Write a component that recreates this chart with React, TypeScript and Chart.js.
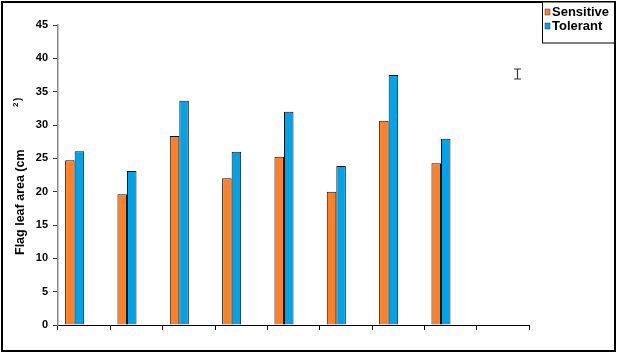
import React, { useEffect, useRef } from "react";
import { Chart, registerables } from "chart.js";

Chart.register(...registerables);

const categories = ["G1", "G2", "G3", "G4", "G5", "G6", "G7", "G8", "LSD"];
const sensitive: (number | null)[] = [24.7, 19.6, 28.35, 22.0, 25.25, 20.0, 30.65, 24.25, null];
const tolerant: (number | null)[] = [26.05, 23.1, 33.65, 26.0, 32.0, 23.85, 37.5, 27.95, null];
const spacer: (number | null)[] = [null, null, null, null, null, null, null, null, null];
const lsdCenter: (number | null)[] = [null, null, null, null, null, null, null, null, 37.65];
const lsdHalfRange = 0.75;
const yMin = 0;
const yMax = 45;
const yStep = 5;
const yTitle = "Flag leaf area (cm";
const yTitleSup = "2";
const yTitleEnd = ")";

const ORANGE = "#FF8027";
const BLUE = "#00A2E8";
const FONT = "'Liberation Sans', Arial, sans-serif";

const decorPlugin = {
  id: "decor",
  afterDraw(chart: any) {
    const ctx = chart.ctx as CanvasRenderingContext2D;
    const yScale = chart.scales.y;
    ctx.save();
    // frame
    ctx.strokeStyle = "#000";
    ctx.lineWidth = 2;
    ctx.strokeRect(2, 2, 613, 349);

    // legend
    ctx.lineWidth = 1;
    ctx.fillStyle = "#fff";
    ctx.fillRect(542.5, 2, 72, 41);
    ctx.strokeRect(542.5, 2, 72, 41);
    const items = [0, 1].map((i) => chart.data.datasets[i]);
    ctx.font = `bold 13px ${FONT}`;
    ctx.textBaseline = "middle";
    ctx.textAlign = "left";
    items.forEach((ds: any, i: number) => {
      const cy = 12 + i * 14;
      ctx.fillStyle = ds.backgroundColor;
      ctx.fillRect(545, cy - 3, 5, 6);
      ctx.strokeStyle = "#333";
      ctx.lineWidth = 0.5;
      ctx.strokeRect(545, cy - 3, 5, 6);
      ctx.fillStyle = "#000";
      ctx.fillText(ds.label, 552, cy + 0.5);
    });

    // y title
    ctx.save();
    ctx.translate(24, 255);
    ctx.rotate(-Math.PI / 2);
    ctx.fillStyle = "#000";
    ctx.textBaseline = "alphabetic";
    ctx.font = `bold 12.5px ${FONT}`;
    ctx.fillText(yTitle, 0, 0);
    ctx.font = `bold 8px ${FONT}`;
    ctx.fillText(yTitleSup, 148, -6);
    ctx.font = `bold 10px ${FONT}`;
    ctx.fillText(yTitleEnd, 154, -3);
    ctx.restore();

    // LSD error bar
    const meta = chart.getDatasetMeta(3);
    lsdCenter.forEach((v, idx) => {
      if (v == null) return;
      const el = meta.data[idx];
      if (!el) return;
      const x = Math.round(el.x) + 0.5;
      const yTop = yScale.getPixelForValue(v + lsdHalfRange);
      const yBot = yScale.getPixelForValue(v - lsdHalfRange);
      ctx.strokeStyle = "#333";
      ctx.lineWidth = 1.2;
      ctx.beginPath();
      ctx.moveTo(x, yTop);
      ctx.lineTo(x, yBot);
      ctx.moveTo(x - 3.5, yTop);
      ctx.lineTo(x + 3.5, yTop);
      ctx.moveTo(x - 3.5, yBot);
      ctx.lineTo(x + 3.5, yBot);
      ctx.stroke();
    });
    ctx.restore();
  },
};

export default function App() {
  const ref = useRef<HTMLCanvasElement | null>(null);
  useEffect(() => {
    document.body.style.margin = "0";
    if (!ref.current) return;
    const chart = new Chart(ref.current, {
      type: "bar",
      data: {
        labels: categories,
        datasets: [
          { label: "Sensitive", data: sensitive, backgroundColor: ORANGE, borderColor: "#111", borderWidth: 1 },
          { label: "Tolerant", data: tolerant, backgroundColor: BLUE, borderColor: "#111", borderWidth: 1 },
          { label: "spacer", data: spacer, backgroundColor: "rgba(0,0,0,0)", borderWidth: 0 },
          { label: "LSD", data: lsdCenter, backgroundColor: "rgba(0,0,0,0)", borderWidth: 0 },
        ],
      },
      options: {
        animation: false,
        responsive: false,
        maintainAspectRatio: false,
        layout: { padding: { top: 25, right: 88, left: 0, bottom: 0 } },
        datasets: { bar: { categoryPercentage: 0.728, barPercentage: 1 } },
        plugins: {
          legend: { display: false },
          tooltip: { enabled: false },
          title: { display: false },
        },
        scales: {
          x: {
            afterFit: (s: any) => {
              s.height = 28;
            },
            grid: {
              offset: true,
              drawOnChartArea: false,
              drawTicks: true,
              tickLength: 5,
              color: "#000",
            },
            border: { display: true, color: "#000", width: 1 },
            ticks: { display: false },
          },
          y: {
            min: yMin,
            max: yMax,
            afterFit: (s: any) => {
              s.width = 58;
            },
            grid: {
              drawOnChartArea: false,
              drawTicks: true,
              tickLength: 5,
              color: "#333",
            },
            border: { display: true, color: "#888", width: 1.5 },
            ticks: {
              stepSize: yStep,
              padding: 5,
              color: "#000",
              font: { family: FONT, size: 11, weight: "bold" },
            },
          },
        },
      },
      plugins: [decorPlugin],
    } as any);
    return () => chart.destroy();
  }, []);
  return (
    <div style={{ width: 617, height: 353, background: "#fff" }}>
      <canvas ref={ref} width={617} height={353} style={{ display: "block" }} />
    </div>
  );
}
